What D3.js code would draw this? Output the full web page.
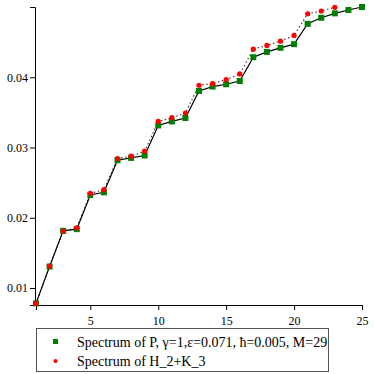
<!DOCTYPE html>
<html>
<head>
<meta charset="utf-8">
<script src="https://cdn.jsdelivr.net/npm/d3@7"></script>
<style>
body { margin: 0; background: #fff; }
</style>
</head>
<body>
<svg width="374" height="374"></svg>
<script>
// spectra
let specP = [0.00781, 0.01305, 0.01814, 0.01838, 0.02324, 0.02362, 0.02819, 0.02852, 0.02886,
  0.03314, 0.03371, 0.0342, 0.03804, 0.03867, 0.039, 0.03947, 0.04286, 0.04361, 0.04419,
  0.04471, 0.04761, 0.04847, 0.0491, 0.04957, 0.0500];
let specH = [0.0078, 0.0131, 0.0181, 0.01857, 0.02347, 0.0240, 0.02843, 0.02876, 0.02947,
  0.03371, 0.03424, 0.0349, 0.03886, 0.0391, 0.03967, 0.04047, 0.044, 0.04453, 0.04514,
  0.04596, 0.04904, 0.04943, 0.04996];
let xTicks = [5, 10, 15, 20, 25];
let yTicks = [0.01, 0.02, 0.03, 0.04];
let labP = "Spectrum of P, \u03b3=1,\u03b5=0.071, \u0127=0.005, M=29";
let labH = "Spectrum of H_2+K_3";

const serif = "'Liberation Serif', 'Times New Roman', Times, 'DejaVu Serif', serif";

let svg = d3.select('svg');
let x = d3.scaleLinear().domain([1, 25]).range([36, 362]);
let y = d3.scaleLinear().domain([0.00758, 0.0500]).range([305, 7]);

// axes
let xAxis = d3.axisBottom(x).tickValues(xTicks).tickSize(5).tickFormat(d3.format('d'));
let xMinor = d3.axisBottom(x).tickValues(d3.range(2, 26)).tickSize(3).tickFormat('');
let gx = svg.append('g').attr('transform', 'translate(0,305)');
gx.call(xMinor);
gx.call(xAxis);
let yAxis = d3.axisLeft(y).tickValues(yTicks).tickSize(5).tickFormat(d3.format('.2f'));
let yMinor = d3.axisLeft(y).tickValues([0.015, 0.025, 0.035, 0.045]).tickSize(3).tickFormat('');
let gy = svg.append('g').attr('transform', 'translate(35,0)');
gy.call(yMinor);
gy.call(yAxis);
svg.selectAll('.domain').attr('stroke', '#000');
svg.selectAll('.tick line').attr('stroke', '#000');
svg.selectAll('g').attr('font-family', null);
svg.selectAll('.tick text').style('font-size', '12px').style('font-family', serif).attr('fill', '#000');
gx.selectAll('.tick text').attr('dy', '1em');
gy.selectAll('.tick text').attr('x', -7);

// lines
let line = d3.line().x((d, i) => x(i + 1)).y(d => y(d));
svg.append('path').attr('d', line(specH)).attr('fill', 'none')
  .attr('stroke', '#333').attr('stroke-width', 1.1).attr('stroke-dasharray', '1.5,2.5');
svg.append('path').attr('d', line(specP)).attr('fill', 'none')
  .attr('stroke', '#000').attr('stroke-width', 1.2);

svg.selectAll('rect.p').data(specP).enter().append('rect').attr('class', 'p')
  .attr('x', (d, i) => x(i + 1) - 3).attr('y', d => y(d) - 3)
  .attr('width', 6).attr('height', 6).attr('fill', '#008000');
svg.selectAll('circle.h').data(specH).enter().append('circle').attr('class', 'h')
  .attr('cx', (d, i) => x(i + 1)).attr('cy', d => y(d))
  .attr('r', 2.6).attr('fill', '#ff0000');

// legend
let lg = svg.append('g');
lg.append('rect').attr('x', 36.5).attr('y', 328.5).attr('width', 292).attr('height', 43)
  .attr('fill', 'none').attr('stroke', '#555');
lg.append('rect').attr('x', 53).attr('y', 339).attr('width', 5).attr('height', 5).attr('fill', '#008000');
lg.append('circle').attr('cx', 55.5).attr('cy', 361).attr('r', 2).attr('fill', '#ff0000');
lg.append('text').attr('x', 77).attr('y', 346.5).style('font-family', serif).style('font-size', '14px').text(labP);
lg.append('text').attr('x', 77).attr('y', 366).style('font-family', serif).style('font-size', '14px').text(labH);
</script>
</body>
</html>
